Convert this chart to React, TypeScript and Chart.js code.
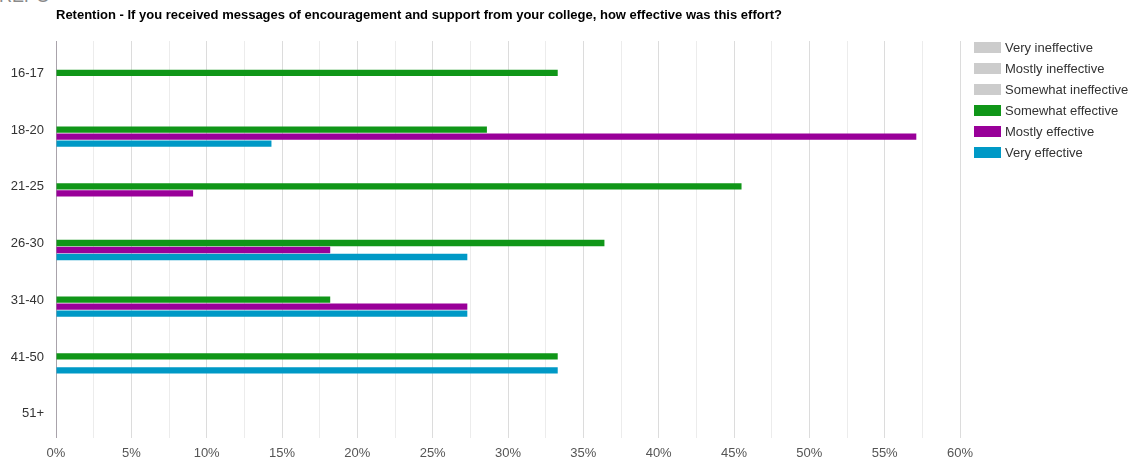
import React, { useEffect, useRef } from "react";
import { Chart, registerables } from "chart.js";

Chart.register(...registerables);

const FONT = 'Arial, "Liberation Sans", sans-serif';

const titleText =
  "Retention - If you received messages of encouragement and support from your college, how effective was this effort?";

const categories = ["16-17", "18-20", "21-25", "26-30", "31-40", "41-50", "51+"];

const seriesNames = [
  "Very ineffective",
  "Mostly ineffective",
  "Somewhat ineffective",
  "Somewhat effective",
  "Mostly effective",
  "Very effective",
];

const seriesColors = ["#cccccc", "#cccccc", "#cccccc", "#109618", "#990099", "#0099c6"];

const veryIneffective = [0, 0, 0, 0, 0, 0, 0];
const mostlyIneffective = [0, 0, 0, 0, 0, 0, 0];
const somewhatIneffective = [0, 0, 0, 0, 0, 0, 0];
const somewhatEffective = [33.3, 28.6, 45.5, 36.4, 18.2, 33.3, 0];
const mostlyEffective = [0, 57.1, 9.1, 18.2, 27.3, 0, 0];
const veryEffective = [0, 14.3, 0, 27.3, 27.3, 33.3, 0];

const seriesValues = [
  veryIneffective,
  mostlyIneffective,
  somewhatIneffective,
  somewhatEffective,
  mostlyEffective,
  veryEffective,
];

const xMin = 0;
const xMax = 60;
const xStep = 2.5;
const xLabelStep = 5;

export default function App() {
  const canvasRef = useRef<HTMLCanvasElement | null>(null);

  useEffect(() => {
    if (!canvasRef.current) return;
    const chart = new Chart(canvasRef.current, {
      type: "bar",
      data: {
        labels: categories,
        datasets: seriesNames.map((name, i) => ({
          label: name,
          data: seriesValues[i],
          backgroundColor: seriesColors[i],
          borderWidth: 0,
          categoryPercentage: 0.74,
          barPercentage: 0.9,
        })),
      },
      options: {
        indexAxis: "y",
        animation: false,
        responsive: false,
        maintainAspectRatio: false,
        layout: { padding: { left: 0, right: 179, top: 0, bottom: 0 } },
        plugins: {
          legend: { display: false },
          tooltip: { enabled: false },
          title: {
            display: true,
            text: titleText,
            align: "start",
            fullSize: false,
            color: "#000000",
            font: { family: FONT, size: 13, weight: "bold" },
            padding: { top: 8, bottom: 17.4 },
          },
        },
        scales: {
          x: {
            type: "linear",
            min: xMin,
            max: xMax,
            afterFit: (scale: any) => {
              scale.height = 24;
            },
            border: { display: false },
            grid: {
              drawTicks: false,
              color: (ctx: any) => {
                const v = ctx.tick ? ctx.tick.value : 0;
                if (v === 0) return "#a9a3ab";
                return Math.abs(v % xLabelStep) < 1e-6 ? "#dcdcdc" : "#ececec";
              },
              lineWidth: 1,
            },
            ticks: {
              stepSize: xStep,
              autoSkip: false,
              maxRotation: 0,
              padding: 8,
              color: "#555555",
              font: { family: FONT, size: 13 },
              callback: (value: any) => {
                const v = Number(value);
                return Math.abs(v % xLabelStep) < 1e-6 ? `${v}%` : "";
              },
            },
          },
          y: {
            afterFit: (scale: any) => {
              scale.width = 56;
            },
            border: { display: false },
            grid: { display: false, drawTicks: false },
            ticks: {
              padding: 12,
              labelOffset: 4,
              color: "#333333",
              font: { family: FONT, size: 13 },
            },
          },
        },
      },
    });
    return () => chart.destroy();
  }, []);

  return (
    <div
      style={{
        position: "absolute",
        left: 0,
        top: 0,
        width: 1139,
        height: 462,
        overflow: "hidden",
        background: "#ffffff",
        fontFamily: FONT,
      }}
    >
      <div
        style={{
          position: "absolute",
          left: -1,
          top: -13,
          fontSize: 18,
          lineHeight: "18px",
          color: "#8a8a8a",
          whiteSpace: "nowrap",
        }}
      >
        REPO
      </div>
      <canvas ref={canvasRef} width={1139} height={462} style={{ position: "absolute", left: 0, top: 0 }} />
      <div style={{ position: "absolute", left: 974, top: 37 }}>
        {seriesNames.map((name, i) => (
          <div
            key={name}
            style={{ display: "flex", alignItems: "center", height: 21, whiteSpace: "nowrap" }}
          >
            <span
              style={{
                display: "inline-block",
                width: 27,
                height: 11,
                background: seriesColors[i],
                marginRight: 4,
              }}
            />
            <span style={{ fontSize: 13, color: "#333333", lineHeight: "15px" }}>{name}</span>
          </div>
        ))}
      </div>
    </div>
  );
}
